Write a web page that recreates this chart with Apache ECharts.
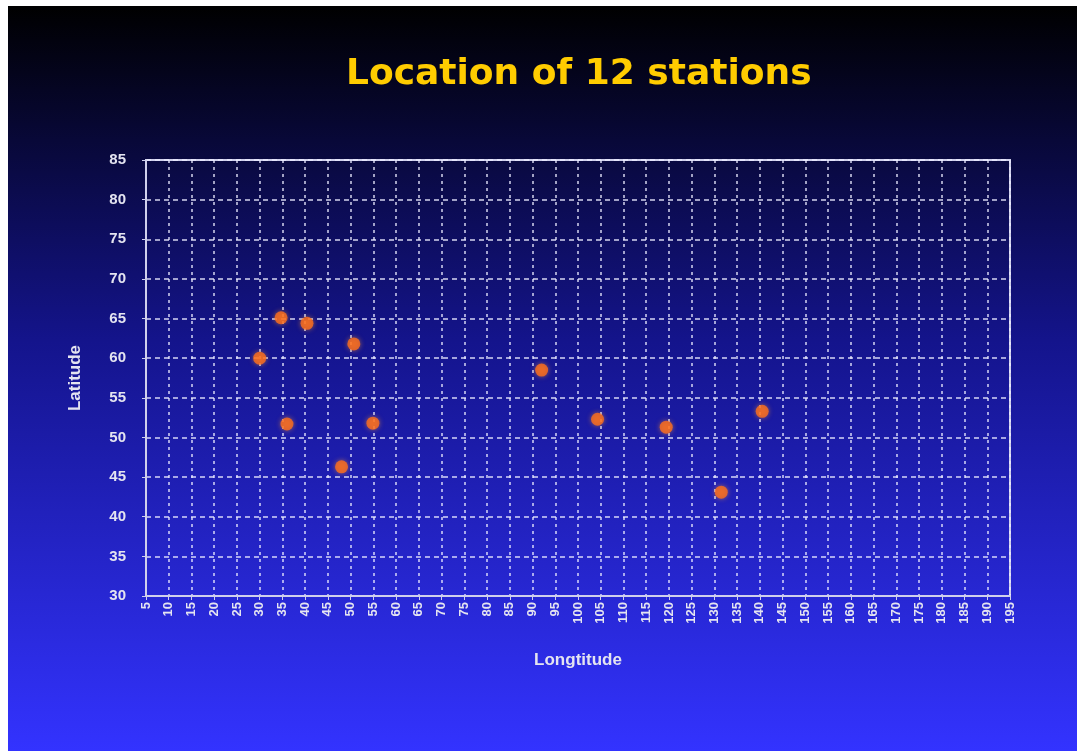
<!DOCTYPE html>
<html>
<head>
<meta charset="utf-8">
<script src="https://cdn.jsdelivr.net/npm/echarts@6/dist/echarts.min.js"></script>
<style>
  html, body { margin: 0; padding: 0; background: #ffffff; }
  #chart { position: absolute; left: 8px; top: 6px; width: 1069px; height: 745px; }
</style>
</head>
<body>
<div id="chart"></div>
<script>
// station coordinates
var longitude = [30, 34.7, 40.4, 36, 50.7, 54.9, 48, 92, 104.3, 119.4, 131.5, 140.5];
var latitude = [60, 65.1, 64.4, 51.7, 61.8, 51.8, 46.3, 58.5, 52.3, 51.3, 43.1, 53.3];
var xRange = [5, 195];
var yRange = [30, 85];

(function stationChart() {
  var dom = document.getElementById("chart");
  var myChart = echarts.init(dom, null, { renderer: "canvas" });

  var points = longitude.map(function (lon, i) {
    return [lon, latitude[i]];
  });

  var labelStyle = {
    color: "#e4e4f0",
    fontWeight: "bold",
    fontFamily: "Liberation Sans",
  };

  var option = {
    backgroundColor: new echarts.graphic.LinearGradient(0, 0, 0, 1, [
      { offset: 0, color: "#000000" },
      { offset: 0.45, color: "#14148c" },
      { offset: 1, color: "#3333ff" },
    ]),
    title: {
      text: "Location of 12 stations",
      left: 333,
      top: 46,
      textStyle: {
        color: "#ffcc00",
        fontSize: 36,
        fontWeight: "bold",
        fontFamily: "DejaVu Sans",
      },
    },
    grid: {
      left: 138,
      right: 67,
      top: 154,
      bottom: 155,
      show: true,
      borderColor: "#d0d0ec",
      borderWidth: 2,
    },
    xAxis: {
      type: "value",
      min: xRange[0],
      max: xRange[1],
      interval: 5,
      name: "Longtitude",
      nameLocation: "middle",
      nameGap: 56,
      nameTextStyle: { ...labelStyle, fontSize: 17 },
      axisLine: { lineStyle: { color: "#d0d0ec", width: 2 } },
      axisTick: { show: true, length: 4, lineStyle: { color: "#d0d0ec" } },
      axisLabel: { ...labelStyle, fontSize: 13, rotate: 90, margin: 6 },
      splitLine: {
        show: true,
        lineStyle: { color: "rgba(235,235,255,0.9)", type: [3, 4], width: 1.5 },
      },
    },
    yAxis: {
      type: "value",
      min: yRange[0],
      max: yRange[1],
      interval: 5,
      name: "Latitude",
      nameLocation: "middle",
      nameGap: 62,
      nameTextStyle: { ...labelStyle, fontSize: 17 },
      axisLine: { show: true, lineStyle: { color: "#d0d0ec", width: 2 } },
      axisTick: { show: true, length: 4, lineStyle: { color: "#d0d0ec" } },
      axisLabel: { ...labelStyle, fontSize: 15, margin: 20 },
      splitLine: {
        show: true,
        lineStyle: { color: "rgba(235,235,255,0.9)", type: [5, 4], width: 1.5 },
      },
    },
    series: [
      {
        type: "scatter",
        data: points,
        symbol: "circle",
        symbolSize: 13,
        itemStyle: {
          color: "#ff6e1c",
          shadowBlur: 5,
          shadowColor: "rgba(255,150,40,0.7)",
        },
      },
    ],
  };

  option && myChart.setOption(option);
})();
</script>
</body>
</html>
